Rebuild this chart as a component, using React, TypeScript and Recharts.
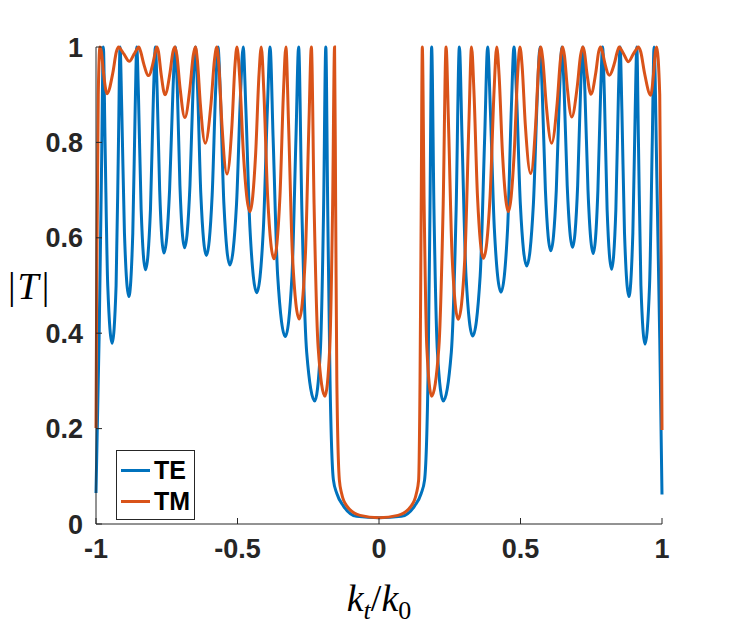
import React from 'react';
import { LineChart, Line, XAxis, YAxis } from 'recharts';

// |T| against kt/k0 (peaks, troughs and a few shoulder points)
const teKt = [
  -1, -0.989, -0.981, -0.974, -0.968, -0.9585, -0.943, -0.929, -0.9206, -0.915,
  -0.909, -0.8995, -0.884, -0.87, -0.8616, -0.856, -0.85, -0.8405, -0.825, -0.8075,
  -0.797, -0.79, -0.784, -0.775, -0.76, -0.74, -0.728, -0.72, -0.713, -0.7035,
  -0.687, -0.668, -0.6566, -0.649, -0.641, -0.6295, -0.61, -0.5895, -0.5772, -0.569,
  -0.5606, -0.548, -0.527, -0.5035, -0.4894, -0.48, -0.4704, -0.456, -0.432, -0.4085,
  -0.3944, -0.385, -0.3742, -0.358, -0.331, -0.3075, -0.2934, -0.284, -0.2726, -0.2555,
  -0.227, -0.2075, -0.1958, -0.188, -0.181, -0.173, -0.161, -0.149, -0.126, -0.079,
  0,
  0.079, 0.126, 0.149, 0.161, 0.173, 0.18, 0.186, 0.1942, 0.2065, 0.227,
  0.2555, 0.2726, 0.284, 0.2934, 0.3075, 0.331, 0.3575, 0.3734, 0.384, 0.3934,
  0.4075, 0.431, 0.4545, 0.4676, 0.477, 0.486, 0.4995, 0.522, 0.5455, 0.5596,
  0.569, 0.5766, 0.588, 0.607, 0.6265, 0.6382, 0.646, 0.6536, 0.665, 0.684,
  0.702, 0.7128, 0.72, 0.7274, 0.7385, 0.757, 0.7735, 0.7834, 0.79, 0.7964,
  0.806, 0.822, 0.837, 0.846, 0.852, 0.8582, 0.8675, 0.883, 0.897, 0.9054,
  0.911, 0.9168, 0.9255, 0.94, 0.956, 0.9656, 0.972, 0.982, 0.992, 1,
];
const teT = [
  0.065, 0.39, 0.72, 1, 0.8, 0.5, 0.379, 0.5, 0.8, 1,
  0.87, 0.61, 0.477, 0.61, 0.87, 1, 0.9, 0.66, 0.533, 0.66,
  0.9, 1, 0.91, 0.7, 0.568, 0.7, 0.91, 1, 0.92, 0.71,
  0.579, 0.71, 0.92, 1, 0.91, 0.69, 0.563, 0.69, 0.91, 1,
  0.9, 0.67, 0.543, 0.67, 0.9, 1, 0.87, 0.62, 0.485, 0.62,
  0.87, 1, 0.81, 0.52, 0.393, 0.52, 0.81, 1, 0.66, 0.36,
  0.258, 0.36, 0.66, 1, 0.65, 0.3, 0.092, 0.064, 0.038, 0.016,
  0.013,
  0.016, 0.038, 0.064, 0.092, 0.3, 0.65, 1, 0.66, 0.36, 0.258,
  0.36, 0.66, 1, 0.81, 0.52, 0.394, 0.52, 0.81, 1, 0.87,
  0.62, 0.486, 0.62, 0.87, 1, 0.9, 0.67, 0.541, 0.67, 0.9,
  1, 0.91, 0.7, 0.573, 0.7, 0.91, 1, 0.92, 0.71, 0.58,
  0.71, 0.92, 1, 0.91, 0.7, 0.567, 0.7, 0.91, 1, 0.9,
  0.66, 0.534, 0.66, 0.9, 1, 0.87, 0.61, 0.477, 0.61, 0.87,
  1, 0.8, 0.5, 0.377, 0.5, 0.8, 1, 0.72, 0.39, 0.062,
];

const tmKt = [
  -1, -0.997, -0.992, -0.986, -0.981, -0.9735, -0.961, -0.9405, -0.928, -0.92,
  -0.9124, -0.901, -0.882, -0.8655, -0.8556, -0.849, -0.842, -0.8315, -0.814, -0.799,
  -0.79, -0.785, -0.7792, -0.7705, -0.756, -0.7385, -0.728, -0.721, -0.714, -0.7035,
  -0.686, -0.6675, -0.6564, -0.649, -0.642, -0.6315, -0.614, -0.5935, -0.5812, -0.573,
  -0.5658, -0.555, -0.537, -0.5195, -0.509, -0.502, -0.4928, -0.479, -0.456, -0.436,
  -0.424, -0.416, -0.407, -0.3935, -0.371, -0.35, -0.3374, -0.329, -0.3196, -0.3055,
  -0.282, -0.2605, -0.2476, -0.239, -0.2294, -0.215, -0.191, -0.174, -0.1638, -0.157,
  -0.153, -0.149, -0.14, -0.132, -0.114, -0.067,
  0,
  0.067, 0.114, 0.132, 0.14, 0.145, 0.149, 0.153, 0.1595, 0.169, 0.186,
  0.2115, 0.2268, 0.237, 0.2456, 0.2585, 0.28, 0.3035, 0.3176, 0.327, 0.3354,
  0.348, 0.369, 0.3925, 0.4066, 0.416, 0.4242, 0.4365, 0.457, 0.4775, 0.4898,
  0.498, 0.5056, 0.517, 0.536, 0.5535, 0.564, 0.571, 0.5788, 0.5905, 0.61,
  0.6295, 0.6412, 0.649, 0.6554, 0.665, 0.681, 0.7005, 0.7122, 0.72, 0.7258,
  0.7345, 0.749, 0.766, 0.7762, 0.783, 0.7892, 0.7985, 0.814, 0.8315, 0.842,
  0.849, 0.8554, 0.865, 0.881, 0.8985, 0.909, 0.916, 0.9248, 0.938, 0.96,
  0.9705, 0.9768, 0.981, 0.992, 0.997, 1,
];
const tmT = [
  0.201, 0.55, 0.9, 1, 0.99, 0.946, 0.902, 0.946, 0.99, 1,
  0.995, 0.985, 0.97, 0.985, 0.995, 1, 0.99, 0.965, 0.94, 0.965,
  0.99, 1, 0.99, 0.946, 0.9, 0.946, 0.99, 1, 0.982, 0.917,
  0.852, 0.917, 0.982, 1, 0.974, 0.882, 0.798, 0.882, 0.974, 1,
  0.961, 0.837, 0.734, 0.837, 0.961, 1, 0.942, 0.775, 0.655, 0.775,
  0.942, 1, 0.908, 0.687, 0.556, 0.687, 0.908, 1, 0.839, 0.559,
  0.43, 0.559, 0.839, 1, 0.67, 0.37, 0.268, 0.37, 0.67, 1,
  0.65, 0.3, 0.092, 0.064, 0.038, 0.018,
  0.013,
  0.018, 0.038, 0.064, 0.092, 0.3, 0.65, 1, 0.67, 0.37, 0.268,
  0.37, 0.67, 1, 0.839, 0.559, 0.429, 0.559, 0.839, 1, 0.908,
  0.687, 0.557, 0.687, 0.908, 1, 0.942, 0.775, 0.655, 0.775, 0.942,
  1, 0.961, 0.837, 0.735, 0.837, 0.961, 1, 0.974, 0.882, 0.798,
  0.882, 0.974, 1, 0.982, 0.917, 0.853, 0.917, 0.982, 1, 0.99,
  0.946, 0.901, 0.946, 0.99, 1, 0.99, 0.965, 0.941, 0.965, 0.99,
  1, 0.995, 0.985, 0.969, 0.985, 0.995, 1, 0.99, 0.946, 0.899,
  0.946, 0.99, 1, 0.9, 0.55, 0.197,
];

const xTicks = [-1, -0.5, 0, 0.5, 1];
const yTicks = [0, 0.2, 0.4, 0.6, 0.8, 1];

const teData = teKt.map((k, i) => ({ k, t: teT[i] }));
const tmData = tmKt.map((k, i) => ({ k, t: tmT[i] }));

const TE_COLOR = '#0072BD';
const TM_COLOR = '#D95319';
const AXIS = '#262626';
const SANS = '"Liberation Sans", Arial, Helvetica, sans-serif';
const SERIF = '"Liberation Serif", "DejaVu Serif", serif';

const tickStyle = { fontFamily: SANS, fontWeight: 700, fontSize: 27, fill: AXIS };

function XTitle(props: any) {
  const vb = props.viewBox || { x: 88, y: 516, width: 566 };
  return (
    <text x={vb.x + vb.width / 2} y={vb.y + 87} textAnchor="middle" fontFamily={SERIF} fontSize={38} fill="#000">
      <tspan fontStyle="italic">k</tspan>
      <tspan fontStyle="italic" fontSize={26} dy={8}>t</tspan>
      <tspan dy={-8}>/</tspan>
      <tspan fontStyle="italic">k</tspan>
      <tspan fontSize={26} dy={8}>0</tspan>
    </text>
  );
}

function YTitle(props: any) {
  const vb = props.viewBox || { x: 0, y: 39, height: 477 };
  return (
    <text x={vb.x} y={vb.y + vb.height / 2 + 13} fontFamily={SERIF} fontSize={38} fill="#000">
      <tspan>|</tspan>
      <tspan fontStyle="italic" dx={2}>T</tspan>
      <tspan dx={3}>|</tspan>
    </text>
  );
}

function LegendBox() {
  const items = [
    { name: 'TE', color: TE_COLOR },
    { name: 'TM', color: TM_COLOR },
  ];
  return (
    <div
      style={{
        position: 'absolute',
        left: 108,
        top: 442,
        width: 77,
        height: 68,
        border: `1px solid ${AXIS}`,
        background: '#fff',
      }}
    >
      {items.map((it, i) => (
        <div
          key={it.name}
          style={{ position: 'absolute', left: 4, top: 6 + i * 31, height: 26, display: 'flex', alignItems: 'center' }}
        >
          <span style={{ display: 'inline-block', width: 29, height: 3, background: it.color }} />
          <span style={{ marginLeft: 4, fontFamily: SANS, fontWeight: 700, fontSize: 25, color: '#000' }}>{it.name}</span>
        </div>
      ))}
    </div>
  );
}

export default function App() {
  return (
    <div style={{ position: 'relative', width: 724, height: 626 }}>
      <LineChart width={724} height={626} margin={{ top: 39, right: 70, bottom: 0, left: 0 }}>
        <XAxis
          dataKey="k"
          type="number"
          domain={[-1, 1]}
          ticks={xTicks}
          height={110}
          tickSize={-6}
          tickMargin={21}
          tick={tickStyle}
          stroke={AXIS}
          label={{ content: (p: any) => <XTitle {...p} /> }}
        />
        <XAxis
          xAxisId="top"
          orientation="top"
          type="number"
          domain={[-1, 1]}
          ticks={xTicks}
          height={0}
          tickSize={-6}
          tick={false}
          stroke={AXIS}
        />
        <YAxis
          type="number"
          domain={[0, 1]}
          ticks={yTicks}
          width={88}
          tickSize={-6}
          tickMargin={19}
          tick={tickStyle}
          stroke={AXIS}
          label={{ content: (p: any) => <YTitle {...p} /> }}
        />
        <YAxis
          yAxisId="right"
          orientation="right"
          type="number"
          domain={[0, 1]}
          ticks={yTicks}
          width={0}
          tickSize={-6}
          tick={false}
          stroke={AXIS}
        />
        <Line
          data={teData}
          dataKey="t"
          name="TE"
          type="monotone"
          stroke={TE_COLOR}
          strokeWidth={3}
          dot={false}
          isAnimationActive={false}
        />
        <Line
          data={tmData}
          dataKey="t"
          name="TM"
          type="monotone"
          stroke={TM_COLOR}
          strokeWidth={3}
          dot={false}
          isAnimationActive={false}
        />
      </LineChart>
      <LegendBox />
    </div>
  );
}
